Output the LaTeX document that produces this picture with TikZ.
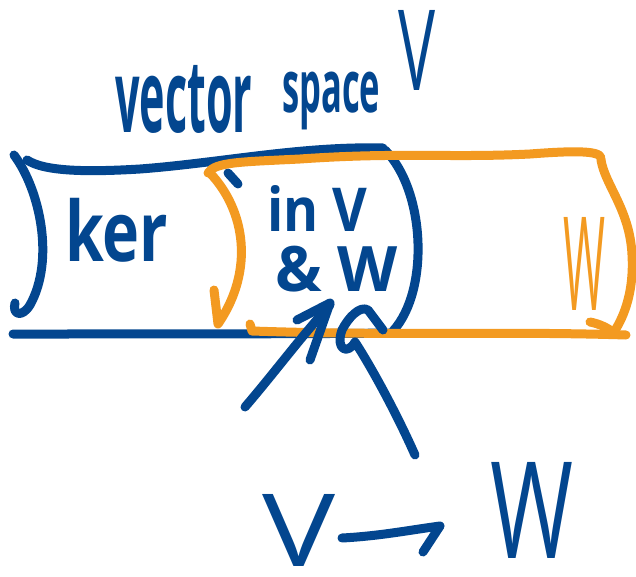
\documentclass[tikz,border=0pt]{standalone}
\usepackage{fontspec}
\setmainfont{Open Sans}
\definecolor{inkblue}{HTML}{03468F}
\definecolor{inkorange}{HTML}{F39A21}
% stretch a handwritten word into a given box
\newcommand\fitbox[3]{\resizebox*{#1}{#2}{#3}}

\begin{document}
\begin{tikzpicture}[x=1pt,y=-1pt,
  pen/.style={line width=9pt,line cap=round,line join=round},
  blueink/.style={pen,draw=inkblue},
  orangeink/.style={pen,draw=inkorange},
  word/.style={inner sep=0pt,anchor=north west,font=\bfseries},
  letter/.style={inner sep=0pt,anchor=north west,font=\mdseries}]
\useasboundingbox (0,0) rectangle (636,577);

% --- the space V (blue band) ---
\draw[blueink] (27,160) .. controls (45,172) and (90,172) .. (140,169)
  .. controls (220,163) and (300,146) .. (383,148);
\draw[blueink] (14,155) .. controls (40,190) and (55,260) .. (30,305)
  .. controls (22,318) and (12,315) .. (15,303);
\draw[blueink] (13,334) .. controls (150,334) and (300,334) .. (395,333);
\draw[blueink] (385,150) .. controls (425,190) and (430,290) .. (393,331);
\draw[blueink] (228,173) -- (238,184);

% --- the space W (orange band) ---
\draw[orangeink] (208,173) .. controls (215,162) and (240,162) .. (300,159)
  .. controls (400,152) and (450,158) .. (530,154)
  .. controls (570,151) and (600,150) .. (601,158);
\draw[orangeink] (601,160) .. controls (605,185) and (630,210) .. (632,255)
  .. controls (634,290) and (625,315) .. (614,332);
\draw[orangeink] (250,324) -- (252,331) .. controls (400,336) and (500,331) .. (626,335);
\draw[orangeink] (590,322) .. controls (600,324) and (608,328) .. (614,333);
\draw[orangeink] (210,173) .. controls (245,210) and (255,270) .. (218,324) -- (214,290);

% --- labels ---
\node[word,text=inkblue] (lvec) at (115,65) {\fitbox{137pt}{68pt}{vector}};
\node[word,text=inkblue] (lspace) at (282,72) {\fitbox{98pt}{58pt}{space}};
\node[letter,text=inkblue] (lV) at (398,10) {\fitbox{37pt}{80pt}{V}};
\node[word,text=inkblue] (lker) at (65,198) {\fitbox{103pt}{64pt}{ker}};
\node[word,text=inkblue] (lin) at (267,185) {\fitbox{100pt}{46pt}{in V}};
\node[word,text=inkblue] (land) at (275,246) {\fitbox{123pt}{46pt}{\& W}};
\node[letter,text=inkorange] (lW) at (563,217) {\fitbox{42pt}{93pt}{W}};
\node[letter,text=inkblue] (bv) at (262,494) {\fitbox{73pt}{72pt}{V}};
\node[letter,text=inkblue] (bw) at (490,462) {\fitbox{83pt}{96pt}{W}};

% --- arrows into the overlap ---
\draw[blueink] (245,407) .. controls (275,372) and (300,338) .. (330,305);
\draw[blueink] (297,320) -- (330,303) -- (310,360);
\draw[blueink] (415,455) .. controls (395,410) and (370,365) .. (355,342)
  .. controls (348,355) and (335,350) .. (342,330)
  .. controls (348,318) and (360,305) .. (368,310) -- (383,330);

% --- the map V -> W ---
\coordinate (mapstart) at (342,538);
\coordinate (maptip) at (440,526);
\draw[blueink] (mapstart) .. controls (380,536) and (410,530) .. (maptip) -- (423,552);
\end{tikzpicture}
\end{document}
